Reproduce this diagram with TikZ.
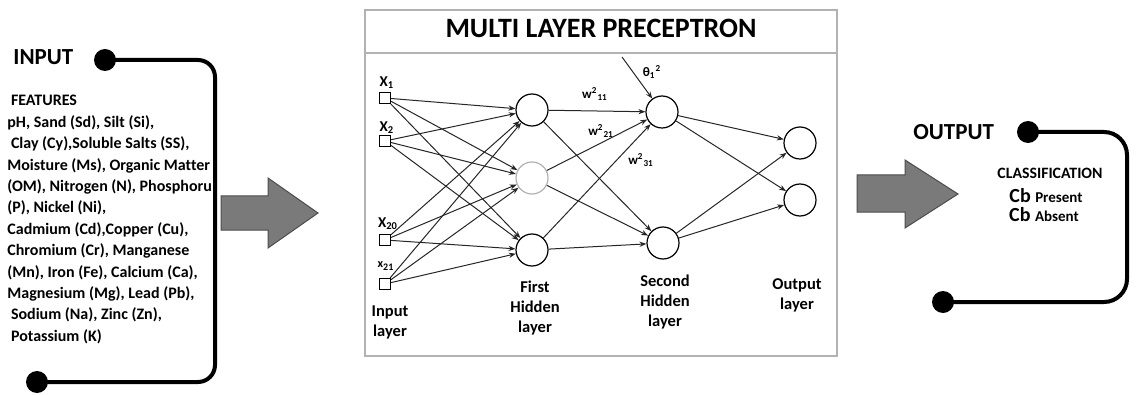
\documentclass[tikz,border=0pt]{standalone}
\usepackage{fontspec}
\setmainfont{Carlito}[Ligatures=NoCommon]
\usetikzlibrary{arrows.meta}
\begin{document}
\begin{tikzpicture}[x=0.5pt,y=-0.5pt,
	dot/.style={fill, circle, inner sep=0pt, minimum size=11pt},
	bracket/.style={line width=2pt},
	neuron/.style={draw, circle, inner sep=0pt, minimum size=16pt, line width=0.6pt},
	unit/.style={draw, rectangle, inner sep=0pt, minimum size=5.5pt, line width=0.6pt},
	link/.style={-{Stealth[length=3.5pt,width=2.6pt]}, line width=0.5pt, black!85},
	bigarrow/.style={fill=black!52, draw=black!70, line width=0.5pt},
	head/.style={font=\fontsize{11.5}{12}\selectfont\bfseries, inner sep=0pt, anchor=base west},
	xlab/.style={font=\fontsize{7.5}{8}\selectfont\bfseries, inner sep=0pt},
	wlab/.style={font=\fontsize{6.5}{7}\selectfont\bfseries, inner sep=0pt},
	lbl/.style={font=\fontsize{8.25}{10}\selectfont\bfseries, align=center, inner sep=0pt, anchor=north}]
	\useasboundingbox (0,0) rectangle (1138,395);
	% input block
	\node[head] (intitle) at (13,65) {INPUT};
	\node[dot] (ina) at (105,60) {};
	\node[dot] (inb) at (37,382) {};
	\draw[bracket, rounded corners=8.5pt] (ina.center) -- (215,60) -- (215,382) -- (inb.center);
	\node[font=\fontsize{8}{10.7}\selectfont\bfseries, align=left, inner sep=0pt, anchor=north west] (feat) at (7,95)
	{\ FEATURES\\
	pH, Sand (Sd), Silt (Si),\\
	\ Clay (Cy),Soluble Salts (SS),\\
	Moisture (Ms), Organic Matter\\
	(OM), Nitrogen (N), Phosphoru\\
	(P), Nickel (Ni),\\
	Cadmium (Cd),Copper (Cu),\\
	Chromium (Cr), Manganese\\
	(Mn), Iron (Fe), Calcium (Ca),\\
	Magnesium (Mg), Lead (Pb),\\
	\ Sodium (Na), Zinc (Zn),\\
	\ Potassium (K)};
	\draw[bigarrow] (221,196) -- (268,196) -- (268,178) -- (318,213) -- (268,248) -- (268,230) -- (221,230) -- cycle;
	% perceptron
	\draw[black!30, line width=1pt] (365,10) rectangle (837,356)
	(365,53) -- (837,53);
	\node[font=\fontsize{14}{16}\selectfont\bfseries, inner sep=0pt, anchor=base] (mlp) at (601,38) {MULTI LAYER PRECEPTRON};
	\node[unit] (x1) at (385,98) {};
	\node[unit] (x2) at (385,141) {};
	\node[unit] (x20) at (385,240) {};
	\node[unit] (x21) at (385,284) {};
	\node[xlab] (lx1) at (387,83) {X\textsubscript{1}};
	\node[xlab] (lx2) at (387,128) {X\textsubscript{2}};
	\node[xlab] (lx20) at (388,224) {X\textsubscript{20}};
	\node[xlab, font=\fontsize{6}{7}\selectfont\bfseries] (lx21) at (386,266) {x\textsubscript{21}};
	\node[neuron] (h1) at (532,110) {};
	\node[neuron, draw=black!30] (h2) at (532,178) {};
	\node[neuron] (h3) at (532,250) {};
	\node[neuron] (s1) at (662,112) {};
	\node[neuron] (s2) at (663,243) {};
	\node[neuron] (o1) at (800,143) {};
	\node[neuron] (o2) at (800,200) {};
	\foreach \i in {x1,x2,x20,x21}
	\foreach \j in {h1,h2,h3}
	\draw[link] (\i) -- (\j);
	\foreach \i in {h1,h2,h3}
	\foreach \j in {s1,s2}
	\draw[link] (\i) -- (\j);
	\foreach \i in {s1,s2}
	\foreach \j in {o1,o2}
	\draw[link] (\i) -- (\j);
	\coordinate (bias) at (622,57);
	\draw[link] (bias) -- (s1);
	\node[wlab] (lth) at (652,72) {θ\textsubscript{1}\textsuperscript{2}};
	\node[wlab] (w11) at (595,94) {w\textsuperscript{2}\textsubscript{11}};
	\node[wlab] (w21) at (601,131) {w\textsuperscript{2}\textsubscript{21}};
	\node[wlab] (w31) at (641,160) {w\textsuperscript{2}\textsubscript{31}};
	\node[lbl] (linput) at (390,305) {Input\\layer};
	\node[lbl] (lfirst) at (535,281) {First\\Hidden\\layer};
	\node[lbl] (lsecond) at (665,275) {Second\\Hidden\\layer};
	\node[lbl] (loutput) at (797,278) {Output\\layer};
	% output block
	\draw[bigarrow] (857,175) -- (905,175) -- (905,160) -- (958,194) -- (905,228) -- (905,212) -- (857,212) -- cycle;
	\node[head] (outtitle) at (913,140) {OUTPUT};
	\node[dot] (outa) at (1028,132) {};
	\node[dot] (outb) at (943,302) {};
	\draw[bracket, rounded corners=11.5pt] (outa.center) -- (1127,132) -- (1127,302) -- (outb.center);
	\node[font=\fontsize{7.9}{9}\selectfont\bfseries, inner sep=0pt, anchor=base] (cls) at (1050,178) {CLASSIFICATION};
	\node[inner sep=0pt, anchor=base, font=\bfseries] (cbp) at (1046,202) {\fontsize{10}{11}\selectfont Cb \fontsize{7.5}{8}\selectfont Present};
	\node[inner sep=0pt, anchor=base, font=\bfseries] (cba) at (1044,221) {\fontsize{10}{11}\selectfont Cb \fontsize{7.5}{8}\selectfont Absent};
\end{tikzpicture}
\end{document}
